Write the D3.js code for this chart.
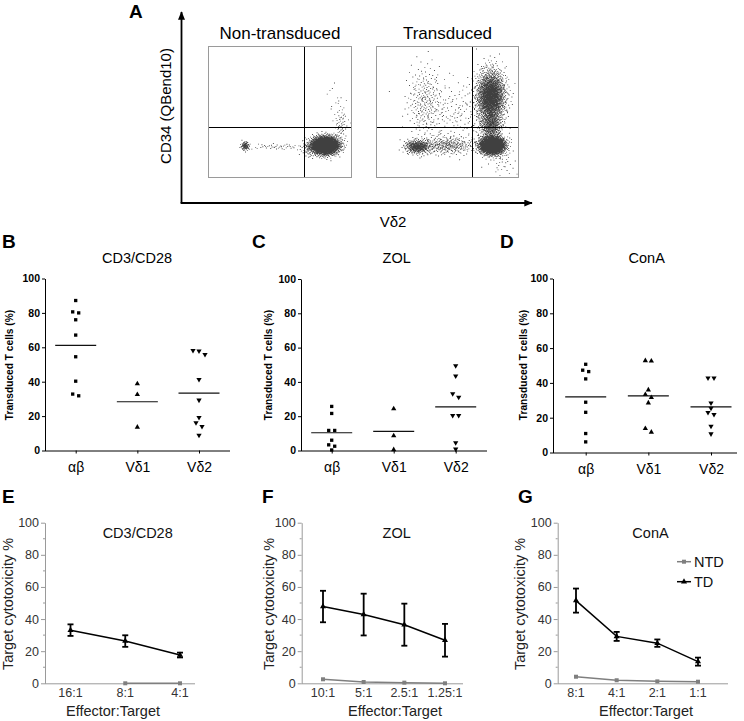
<!DOCTYPE html>
<html><head><meta charset="utf-8">
<script src="https://cdn.jsdelivr.net/npm/d3@7"></script>
<style>
body{margin:0;background:#fff}
svg{display:block;font-family:"Liberation Sans",Arial,Helvetica,sans-serif}
</style>
</head><body>
<svg id="c" width="744" height="721"></svg>
<script>
// ---------------- DATA ----------------
// Panel A: flow cytometry clouds, [centreX, centreY, spreadX, spreadY, events] in relative plot units (0..1, y from bottom)
const flowTitles = ["Non-transduced", "Transduced"];
const flowNonTransduced = [
  [0.81, 0.25, 0.045, 0.032, 2600],
  [0.255, 0.245, 0.014, 0.016, 90],
  [0.48, 0.24, 0.11, 0.012, 45],
  [0.92, 0.40, 0.025, 0.09, 70],
  [0.87, 0.62, 0.03, 0.06, 8],
  [0.70, 0.22, 0.03, 0.03, 60]
];
const flowTransduced = [
  [0.81, 0.25, 0.042, 0.032, 2200],
  [0.80, 0.62, 0.05, 0.10, 1800],
  [0.80, 0.40, 0.04, 0.06, 450],
  [0.29, 0.24, 0.045, 0.026, 380],
  [0.50, 0.25, 0.10, 0.035, 300],
  [0.34, 0.58, 0.065, 0.14, 260],
  [0.56, 0.50, 0.10, 0.12, 130],
  [0.88, 0.12, 0.05, 0.07, 40]
];
const flowGateX = [0.667, 0.671];
const flowGateY = 0.386;

// Panels B-D: transduced T cells (%)
const dotCategories = ["αβ", "Vδ1", "Vδ2"];
const dotTitles = ["CD3/CD28", "ZOL", "ConA"];
const dotYTicks = [0, 20, 40, 60, 80, 100];
const cd3AB  = [87.2, 80.6, 80.0, 76.0, 67.1, 54.5, 40.3, 31.8, 32.8];
const cd3VD1 = [38.8, 32.6, 13.6];
const cd3VD2 = [58.1, 57.9, 55.8, 41.3, 29.3, 19.2, 16.1, 14.0, 8.9];
const zolAB  = [25.7, 21.6, 11.7, 11.7, 6.0, 3.3, 2.5, 0.3];
const zolVD1 = [24.3, 8.6, 0.5];
const zolVD2 = [49.4, 43.4, 33.1, 31.1, 20.4, 20.4, 4.5, 0.8];
const conaAB  = [50.7, 47.3, 46.5, 42.3, 28.9, 23.1, 10.9, 6.1];
const conaVD1 = [52.8, 52.6, 36.0, 33.3, 31.6, 28.5, 13.8, 11.7];
const conaVD2 = [42.8, 42.8, 28.5, 25.4, 23.0, 21.8, 15.1, 10.7];

// Panels E-G: target cytotoxicity %
const cytoYTicks = [0, 20, 40, 60, 80, 100];
const cytoMinorTicks = [10, 30, 50, 70, 90];
const cd3Ratios = ["16:1", "8:1", "4:1"];
const cd3TDMean = [33.1, 26.3, 17.6];
const cd3TDErr  = [3.6, 3.6, 1.5];
const cd3NTD    = [null, 0, 0];
const zolRatios = ["10:1", "5:1", "2.5:1", "1.25:1"];
const zolTDMean = [47.8, 42.8, 36.5, 26.8];
const zolTDErr  = [9.8, 13.0, 13.1, 10.2];
const zolNTD    = [2.5, 0.8, 0.4, 0.0];
const conaRatios = ["8:1", "4:1", "2:1", "1:1"];
const conaTDMean = [51.5, 29.2, 25.0, 13.5];
const conaTDErr  = [7.5, 2.8, 2.3, 2.5];
const conaNTD    = [4.1, 1.9, 1.2, 1.0];
const legendLabels = ["NTD", "TD"];

// ---------------- DRAWING ----------------
const svg = d3.select("#c");

function label(x, y, s, size, opt = {}) {
  return svg.append("text").attr("x", x).attr("y", y).text(s)
    .attr("font-size", size).attr("font-weight", opt.bold ? "bold" : null)
    .attr("text-anchor", opt.anchor || "start").attr("fill", opt.fill || "#000");
}
function rotLabel(cx, cy, s, size, opt = {}) {
  return svg.append("text").attr("transform", `translate(${cx},${cy}) rotate(-90)`)
    .attr("dy", "0.35em").attr("text-anchor", "middle").text(s)
    .attr("font-size", size).attr("font-weight", opt.bold ? "bold" : null)
    .attr("fill", opt.fill || "#000");
}

// panel letters
[["A",129,18],["B",2,248],["C",252,248],["D",500,248],["E",2,503],["F",262,503],["G",518,503]]
  .forEach(([t,x,y]) => label(x, y, t, 19, {bold: true}));

// ---- Panel A ----
function halton(i, b) { let f = 1, r = 0; while (i > 0) { f /= b; r += f * (i % b); i = Math.floor(i / b); } return r; }
function probit(p) {
  const a=[-39.69683028665376,220.9460984245205,-275.9285104469687,138.3577518672690,-30.66479806614716,2.506628277459239];
  const b=[-54.47609879822406,161.5858368580409,-155.6989798598866,66.80131188771972,-13.28068155288572];
  const c=[-0.007784894002430293,-0.3223964580411365,-2.400758277161838,-2.549732539343734,4.374664141464968,2.938163982698783];
  const d=[0.007784695709041462,0.3224671290700398,2.445134137142996,3.754408661907416];
  const pl=0.02425;
  if (p < pl) { const q=Math.sqrt(-2*Math.log(p)); return (((((c[0]*q+c[1])*q+c[2])*q+c[3])*q+c[4])*q+c[5])/((((d[0]*q+d[1])*q+d[2])*q+d[3])*q+1); }
  if (p > 1-pl) { const q=Math.sqrt(-2*Math.log(1-p)); return -(((((c[0]*q+c[1])*q+c[2])*q+c[3])*q+c[4])*q+c[5])/((((d[0]*q+d[1])*q+d[2])*q+d[3])*q+1); }
  const q=p-0.5, r=q*q; return (((((a[0]*r+a[1])*r+a[2])*r+a[3])*r+a[4])*r+a[5])*q/(((((b[0]*r+b[1])*r+b[2])*r+b[3])*r+b[4])*r+1);
}
let stippleIdx = 17;
const flowBoxes = [[208, 352], [376, 519]];
const flowTop = 46, flowBottom = 178;
[flowNonTransduced, flowTransduced].forEach((clusters, bi) => {
  const [bx0, bx1] = flowBoxes[bi];
  const xs = d3.scaleLinear().domain([0, 1]).range([bx0, bx1]);
  const ys = d3.scaleLinear().domain([0, 1]).range([flowBottom, flowTop]);
  const cid = "clip" + bi;
  svg.append("clipPath").attr("id", cid).append("rect")
    .attr("x", bx0).attr("y", flowTop).attr("width", bx1 - bx0).attr("height", flowBottom - flowTop);
  const g = svg.append("g").attr("clip-path", `url(#${cid})`);
  let dStr = "";
  clusters.forEach(([cx, cy, sx, sy, n]) => {
    for (let k = 0; k < n; k++) {
      const u = halton(stippleIdx, 2), v = halton(stippleIdx, 3);
      stippleIdx++;
      const px = xs(cx + sx * probit(u)), py = ys(cy + sy * probit(v));
      dStr += `M${px.toFixed(1)},${py.toFixed(1)}h0.9v0.9h-0.9z`;
    }
  });
  g.append("path").attr("d", dStr).attr("fill", "#000").attr("fill-opacity", 0.75);
  // gates
  const gx = Math.round(xs(flowGateX[bi])) + 0.5, gy = Math.round(ys(flowGateY)) + 0.5;
  svg.append("line").attr("x1", gx).attr("x2", gx)
    .attr("y1", flowTop).attr("y2", flowBottom).attr("stroke", "#000").attr("stroke-width", 1);
  svg.append("line").attr("x1", bx0).attr("x2", bx1)
    .attr("y1", gy).attr("y2", gy).attr("stroke", "#000").attr("stroke-width", 1);
  svg.append("rect").attr("x", bx0 + 0.5).attr("y", flowTop + 0.5).attr("width", bx1 - bx0 - 1)
    .attr("height", flowBottom - flowTop - 1).attr("fill", "none").attr("stroke", "#9a9a9a");
  label((bx0 + bx1) / 2, 39, flowTitles[bi], 17, {anchor: "middle"});
});
// arrows
const defs = svg.append("defs");
defs.append("marker").attr("id", "arr").attr("viewBox", "0 0 12 10").attr("refX", 11).attr("refY", 5)
  .attr("markerWidth", 9).attr("markerHeight", 7).attr("markerUnits", "userSpaceOnUse").attr("orient", "auto")
  .append("path").attr("d", "M0,0L12,5L0,10z").attr("fill", "#000");
svg.append("line").attr("x1", 181.5).attr("y1", 203).attr("x2", 181.5).attr("y2", 12)
  .attr("stroke", "#000").attr("stroke-width", 1.8).attr("marker-end", "url(#arr)");
svg.append("line").attr("x1", 180.6).attr("y1", 203).attr("x2", 532).attr("y2", 203)
  .attr("stroke", "#000").attr("stroke-width", 1.8).attr("marker-end", "url(#arr)");
rotLabel(166, 106, "CD34 (QBend10)", 15);
label(393, 227, "Vδ2", 15, {anchor: "middle"});

// ---- Panels B-D ----
const dotLayouts = [
  {x0: 45, x1: 230, c0: 75.7, c1: 199, yTop: 278.5, yBot: 450.5, ylx: 9, tx: 137},
  {x0: 301, x1: 487, c0: 331.7, c1: 455.7, yTop: 279, yBot: 450.5, ylx: 268, tx: 396.7},
  {x0: 553, x1: 737, c0: 585.7, c1: 711, yTop: 278.5, yBot: 452.5, ylx: 523, tx: 646.7}
];
const dotData = [[cd3AB, cd3VD1, cd3VD2], [zolAB, zolVD1, zolVD2], [conaAB, conaVD1, conaVD2]];
const dotShapes = [
  {type: d3.symbolSquare, size: 11, rot: 0},
  {type: d3.symbolTriangle, size: 12, rot: 0},
  {type: d3.symbolTriangle, size: 12, rot: 180}
];
function swarm(values, y) {
  const pts = values.map(v => ({v, py: y(v)})).sort((a, b) => a.py - b.py);
  const rows = [];
  pts.forEach(p => {
    const row = rows[rows.length - 1];
    if (row && p.py - row[0].py < 4.1) row.push(p); else rows.push([p]);
  });
  rows.forEach(r => r.forEach((p, i) => p.dx = (i - (r.length - 1) / 2) * 6));
  return pts;
}
dotLayouts.forEach((L, pi) => {
  const y = d3.scaleLinear().domain([0, 100]).range([L.yBot, L.yTop]);
  const x = d3.scalePoint().domain(dotCategories).range([L.c0, L.c1]);
  const ay = svg.append("g").attr("transform", `translate(${L.x0},0)`)
    .call(d3.axisLeft(y).tickValues(dotYTicks).tickSize(3).tickSizeOuter(0).tickPadding(2));
  ay.selectAll("text").attr("font-size", 10.5).attr("font-weight", "bold").attr("font-family", null);
  ay.selectAll("line,path").attr("stroke", "#000");
  const ax = svg.append("g").attr("transform", `translate(0,${L.yBot})`)
    .call(d3.axisBottom(x).tickSize(3).tickSizeOuter(0).tickPadding(9));
  ax.select(".domain").attr("d", `M${L.x0},0.5H${L.x1}`).attr("stroke", "#000");
  ax.selectAll("line").attr("stroke", "#000");
  ax.selectAll("text").attr("font-size", 14).attr("font-family", null);
  rotLabel(L.ylx, 365, "Transduced T cells (%)", 10.2, {bold: true});
  label(L.tx, 263, dotTitles[pi], 14.5, {anchor: "middle"});
  dotData[pi].forEach((vals, ci) => {
    const cx = x(dotCategories[ci]);
    const sh = dotShapes[ci];
    const sym = d3.symbol().type(sh.type).size(sh.size);
    svg.append("g").selectAll("path").data(swarm(vals, y)).join("path")
      .attr("d", sym).attr("fill", "#000")
      .attr("transform", p => `translate(${cx + p.dx},${p.py}) rotate(${sh.rot})`);
    const m = d3.mean(vals);
    svg.append("line").attr("x1", cx - 20.5).attr("x2", cx + 20.5)
      .attr("y1", y(m)).attr("y2", y(m)).attr("stroke", "#111").attr("stroke-width", 1.2);
  });
});

// ---- Panels E-G ----
const cytoLayouts = [
  {x0: 45, x1: 195, c0: 70.5, c1: 180, ylx: 8, tx: 137.7, xlx: 113},
  {x0: 301.7, x1: 463, c0: 323, c1: 445, ylx: 269, tx: 396.7, xlx: 395},
  {x0: 557.7, x1: 728, c0: 576, c1: 698, ylx: 519.5, tx: 650.5, xlx: 646}
];
const cytoData = [
  [cd3Ratios, cd3TDMean, cd3TDErr, cd3NTD],
  [zolRatios, zolTDMean, zolTDErr, zolNTD],
  [conaRatios, conaTDMean, conaTDErr, conaNTD]
];
const cytoTitles = dotTitles;
const AX = "#9a9a9a", NTDC = "#7f7f7f";
cytoLayouts.forEach((L, pi) => {
  const [ratios, tdM, tdE, ntd] = cytoData[pi];
  const y = d3.scaleLinear().domain([0, 100]).range([683.3, 522.7]);
  const x = d3.scalePoint().domain(ratios).range([L.c0, L.c1]);
  const ay = svg.append("g").attr("transform", `translate(${L.x0},0)`)
    .call(d3.axisLeft(y).tickValues(cytoYTicks).tickSize(4).tickSizeOuter(0).tickPadding(2));
  ay.selectAll("text").attr("font-size", 12.5).attr("fill", "#333").attr("font-family", null);
  ay.selectAll("line,path").attr("stroke", AX);
  svg.append("g").selectAll("line").data(cytoMinorTicks).join("line")
    .attr("x1", L.x0 - 2).attr("x2", L.x0).attr("y1", d => y(d)).attr("y2", d => y(d)).attr("stroke", AX);
  svg.append("line").attr("x1", L.x0).attr("x2", L.x1).attr("y1", y(0) + 0.5).attr("y2", y(0) + 0.5).attr("stroke", AX);
  svg.append("g").selectAll("text").data(ratios).join("text")
    .attr("x", d => x(d)).attr("y", 697).attr("text-anchor", "middle")
    .attr("font-size", 12.5).attr("fill", "#333").text(d => d);
  rotLabel(L.ylx, 604, "Target cytotoxicity %", 14.5, {fill: "#222"});
  label(L.xlx, 716, "Effector:Target", 14.5, {anchor: "middle", fill: "#222"});
  label(L.tx, 538, cytoTitles[pi], 14.5, {anchor: "middle", fill: "#111"});

  // NTD
  const ntdPts = ratios.map((r, i) => ({r, v: ntd[i]})).filter(d => d.v !== null);
  svg.append("path").datum(ntdPts)
    .attr("d", d3.line().x(d => x(d.r)).y(d => y(d.v)))
    .attr("fill", "none").attr("stroke", NTDC).attr("stroke-width", 1.5);
  svg.append("g").selectAll("path").data(ntdPts).join("path")
    .attr("d", d3.symbol().type(d3.symbolSquare).size(16)).attr("fill", NTDC)
    .attr("transform", d => `translate(${x(d.r)},${y(d.v)})`);
  // TD
  const tdPts = ratios.map((r, i) => ({r, v: tdM[i], e: tdE[i]}));
  const eb = svg.append("g").attr("stroke", "#000").attr("stroke-width", 1.8);
  tdPts.forEach(d => {
    const cx = x(d.r);
    eb.append("line").attr("x1", cx).attr("x2", cx).attr("y1", y(d.v + d.e)).attr("y2", y(d.v - d.e));
    eb.append("line").attr("x1", cx - 3).attr("x2", cx + 3).attr("y1", y(d.v + d.e)).attr("y2", y(d.v + d.e));
    eb.append("line").attr("x1", cx - 3).attr("x2", cx + 3).attr("y1", y(d.v - d.e)).attr("y2", y(d.v - d.e));
  });
  svg.append("path").datum(tdPts)
    .attr("d", d3.line().x(d => x(d.r)).y(d => y(d.v)))
    .attr("fill", "none").attr("stroke", "#000").attr("stroke-width", 1.5);
  svg.append("g").selectAll("path").data(tdPts).join("path")
    .attr("d", d3.symbol().type(d3.symbolTriangle).size(16)).attr("fill", "#000")
    .attr("transform", d => `translate(${x(d.r)},${y(d.v)})`);
});

// legend (panel G)
const legY = [561.7, 581.7];
const legColors = [NTDC, "#000"];
const legSyms = [d3.symbolSquare, d3.symbolTriangle];
legendLabels.forEach((t, i) => {
  svg.append("line").attr("x1", 677).attr("x2", 691).attr("y1", legY[i]).attr("y2", legY[i])
    .attr("stroke", legColors[i]).attr("stroke-width", 1.5);
  svg.append("path").attr("d", d3.symbol().type(legSyms[i]).size(16)())
    .attr("transform", `translate(684,${legY[i]})`).attr("fill", legColors[i]);
  label(694, legY[i] + 5, t, 14.5, {fill: "#111"});
});
</script>
</body></html>
